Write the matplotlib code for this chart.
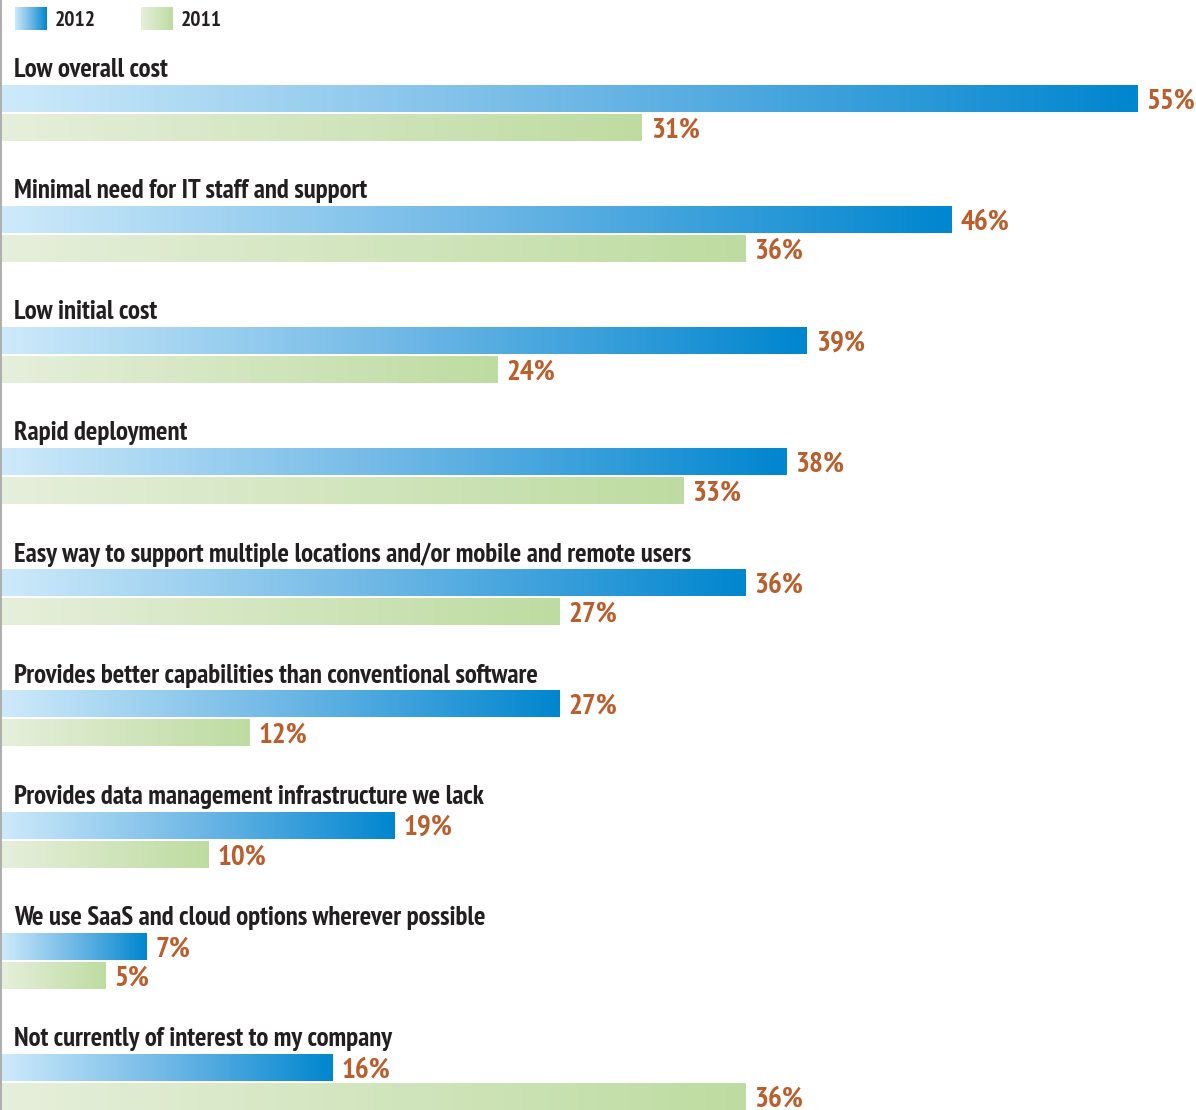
import matplotlib
matplotlib.use("Agg")
import matplotlib.pyplot as plt
import numpy as np
from matplotlib.colors import LinearSegmentedColormap

categories = [
    "Low overall cost",
    "Minimal need for IT staff and support",
    "Low initial cost",
    "Rapid deployment",
    "Easy way to support multiple locations and/or mobile and remote users",
    "Provides better capabilities than conventional software",
    "Provides data management infrastructure we lack",
    "We use SaaS and cloud options wherever possible",
    "Not currently of interest to my company",
]
values_2012 = [55, 46, 39, 38, 36, 27, 19, 7, 16]
values_2011 = [31, 36, 24, 33, 27, 12, 10, 5, 36]
series_names = ["2012", "2011"]

fam = ["PT Sans Narrow", "Fira Sans Condensed", "Roboto Condensed", "DejaVu Sans"]

blue_cmap = LinearSegmentedColormap.from_list("b", ["#cdeafa", "#6fb8e6", "#0086cf"])
green_cmap = LinearSegmentedColormap.from_list("g", ["#e6efdb", "#bedca1"])
val_color = "#b95e2d"
txt_color = "#231f20"

W, H = 1196, 1110
fig = plt.figure(figsize=(W / 100, H / 100), dpi=100)
ax = fig.add_axes([0, 0, 1, 1])
px_per = 20.64
x0 = 2
ax.axis("off")

grad = np.linspace(0, 1, 256).reshape(1, -1)
bar_h = 27
gap = 2
step = 121.1
top0 = 85

def lx(px):
    return (px - x0) / px_per

def gbar(v, ytop, cmap):
    ax.imshow(grad, cmap=cmap, extent=[0, v, ytop + bar_h, ytop], aspect="auto",
              interpolation="bicubic", zorder=2)

for i, (cat, a, b) in enumerate(zip(categories, values_2012, values_2011)):
    yt = top0 + i * step
    ax.text(lx(14), yt - 15, cat, fontsize=19.4, family=fam,
            fontweight="bold", color=txt_color, va="center", ha="left")
    gbar(a, yt, blue_cmap)
    gbar(b, yt + bar_h + gap, green_cmap)
    ax.text(a + 9 / px_per, yt + bar_h / 2 + 3, f"{a}%", fontsize=21, family=fam,
            fontweight="bold", color=val_color, va="center", ha="left")
    ax.text(b + 9 / px_per, yt + bar_h + gap + bar_h / 2 + 3, f"{b}%", fontsize=21,
            family=fam, fontweight="bold", color=val_color, va="center", ha="left")

# left axis line
ax.plot([lx(1), lx(1)], [0, H], color="#a0a0a0", lw=1.2, zorder=3)

# legend
for name, cmap, sx in zip(series_names, [blue_cmap, green_cmap], [15, 141]):
    ax.imshow(grad, cmap=cmap, extent=[lx(sx), lx(sx + 32), 30, 7], aspect="auto",
              interpolation="bicubic", zorder=2)
    ax.text(lx(sx + 40), 20, name, fontsize=15.5, family=fam, fontweight="bold",
            color=txt_color, va="center", ha="left")

ax.set_xlim(-x0 / px_per, (W - x0) / px_per)
ax.set_ylim(H, 0)
fig.savefig("out.png", dpi=100)
